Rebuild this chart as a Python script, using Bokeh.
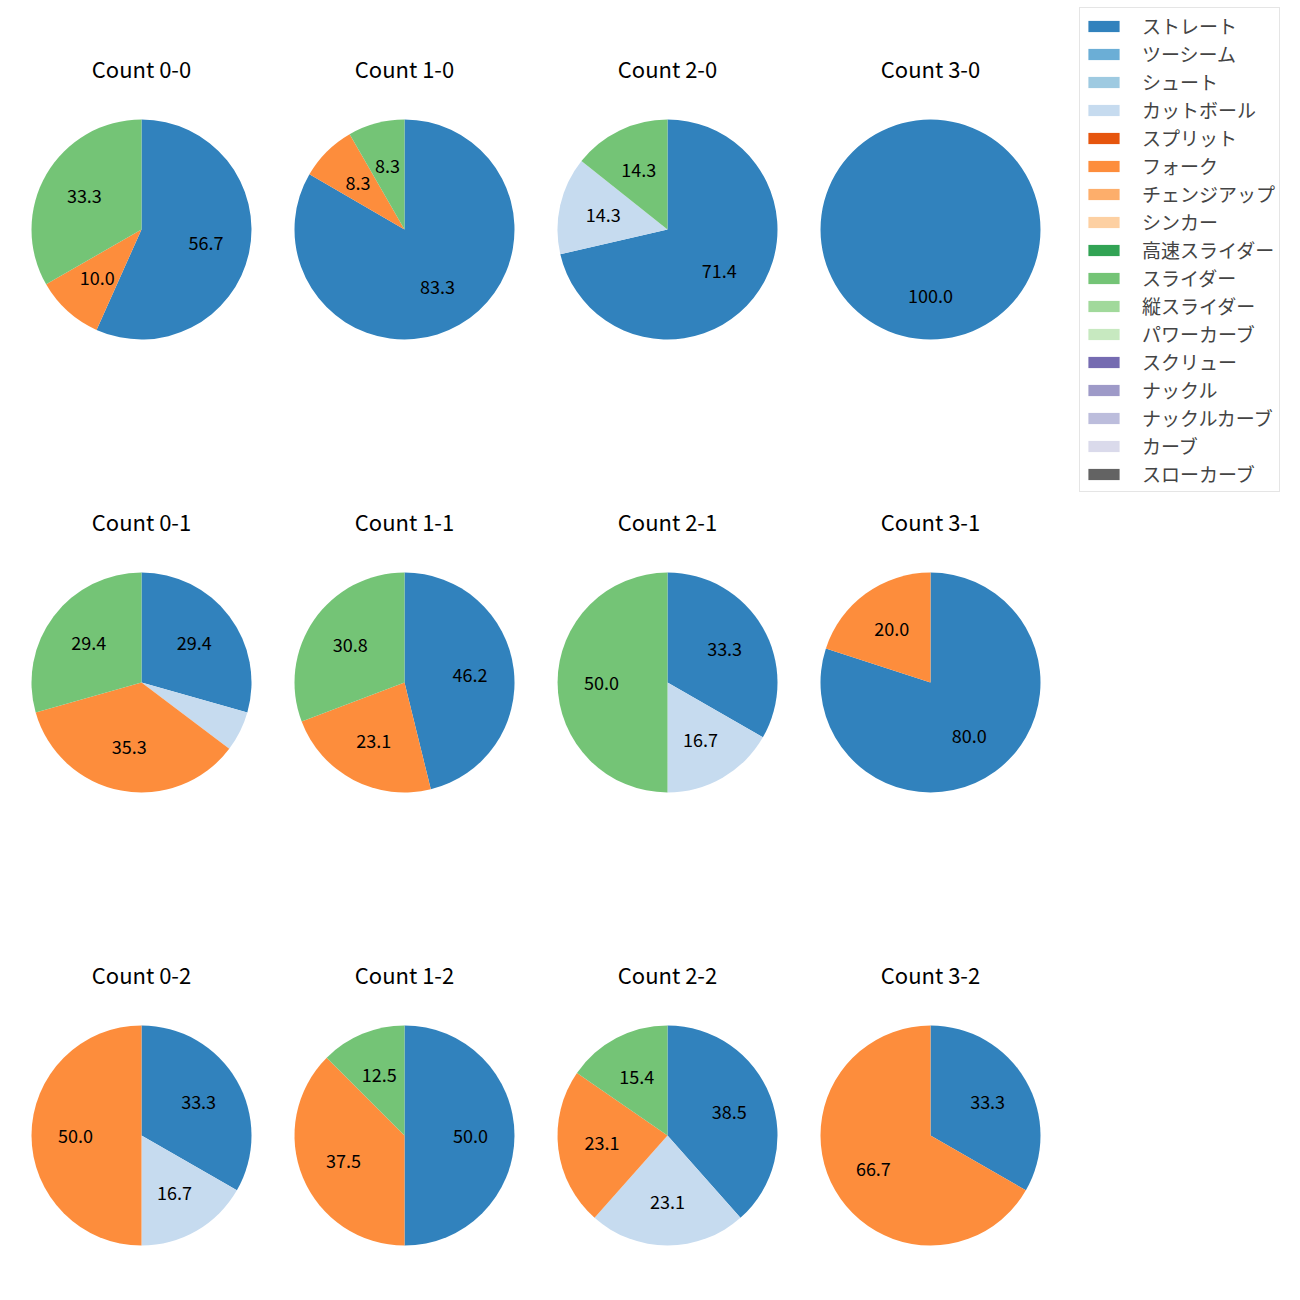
import math
from bokeh.plotting import figure
from bokeh.models import ColumnDataSource, Range1d, Legend, LegendItem
from bokeh.core.properties import value
from bokeh.embed import file_html
from bokeh.resources import INLINE

# ---- data ----
pitch_types = ["ストレート", "ツーシーム", "シュート", "カットボール", "スプリット", "フォーク",
               "チェンジアップ", "シンカー", "高速スライダー", "スライダー", "縦スライダー",
               "パワーカーブ", "スクリュー", "ナックル", "ナックルカーブ", "カーブ", "スローカーブ"]
pitch_colors = ["#3182bd", "#6baed6", "#9ecae1", "#c6dbef", "#e6550d", "#fd8d3c",
                "#fdae6b", "#fdd0a2", "#31a354", "#74c476", "#a1d99b", "#c7e9c0",
                "#756bb1", "#9e9ac8", "#bcbddc", "#dadaeb", "#636363"]

counts = ["0-0", "1-0", "2-0", "3-0",
          "0-1", "1-1", "2-1", "3-1",
          "0-2", "1-2", "2-2", "3-2"]
straight = [56.7, 83.3, 71.4, 100.0, 29.4, 46.2, 33.3, 80.0, 33.3, 50.0, 38.5, 33.3]
cutball = [0.0, 0.0, 14.3, 0.0, 5.9, 0.0, 16.7, 0.0, 16.7, 0.0, 23.1, 0.0]
fork = [10.0, 8.3, 0.0, 0.0, 35.3, 23.1, 0.0, 20.0, 50.0, 37.5, 23.1, 66.7]
slider = [33.3, 8.3, 14.3, 0.0, 29.4, 30.8, 50.0, 0.0, 0.0, 12.5, 15.4, 0.0]

series = [("ストレート", straight), ("カットボール", cutball), ("フォーク", fork), ("スライダー", slider)]

# ---- layout ----
W = H = 1300
col_x = [141, 404, 667, 930]
row_y = [229, 682, 1135]
R = 110
FONT = "Noto Sans CJK JP"

p = figure(width=W, height=H, x_range=Range1d(0, W), y_range=Range1d(0, H),
           x_axis_type=None, y_axis_type=None, output_backend="svg",
           toolbar_location=None, min_border=0)
p.grid.visible = False
p.outline_line_color = None

wx, wy, ws, we, wc = [], [], [], [], []
lx, ly, lt = [], [], []
tx, ty, tt = [], [], []
for k, c in enumerate(counts):
    cx = col_x[k % 4]
    cy = H - row_y[k // 4]
    tx.append(cx); ty.append(cy + 162); tt.append("Count " + c)
    total = sum(s[1][k] for s in series)
    cum = 0.0
    for name, vals in series:
        v = vals[k]
        if v <= 0:
            continue
        a0 = math.pi / 2 - 2 * math.pi * (cum + v) / total
        a1 = math.pi / 2 - 2 * math.pi * cum / total
        if v >= total:
            a1 -= 1e-4
        cum += v
        wx.append(cx); wy.append(cy); ws.append(a0); we.append(a1)
        wc.append(pitch_colors[pitch_types.index(name)])
        if v >= 6:
            mid = (a0 + a1) / 2
            lx.append(cx + 0.6 * R * math.cos(mid))
            ly.append(cy + 0.6 * R * math.sin(mid))
            lt.append("%.1f" % v)

p.wedge(x="x", y="y", radius=R, start_angle="s", end_angle="e", fill_color="c",
        line_color=None, source=ColumnDataSource(dict(x=wx, y=wy, s=ws, e=we, c=wc)))
p.text(x="x", y="y", text="t", source=ColumnDataSource(dict(x=lx, y=ly, t=lt)),
       text_align="center", text_baseline="middle", text_font=value(FONT),
       text_font_size="18px", text_color="black")
p.text(x="x", y="y", text="t", source=ColumnDataSource(dict(x=tx, y=ty, t=tt)),
       text_align="center", text_baseline="middle", text_font=value(FONT),
       text_font_size="22px", text_color="black")

items = []
for name, col in zip(pitch_types, pitch_colors):
    r = p.rect(x=[float("nan")], y=[float("nan")], width=1, height=1,
               fill_color=col, line_color=None)
    items.append(LegendItem(label=value(name), renderers=[r]))

legend = Legend(items=items, location=(1079, 808), glyph_width=39, glyph_height=14,
                label_text_font=FONT, label_text_font_size="19px", label_standoff=19,
                padding=4, spacing=1, label_height=20, margin=0,
                border_line_color="#cccccc", border_line_width=1,
                background_fill_color="white", background_fill_alpha=1.0)
p.add_layout(legend)

open("out.html", "w").write(file_html(p, INLINE))
